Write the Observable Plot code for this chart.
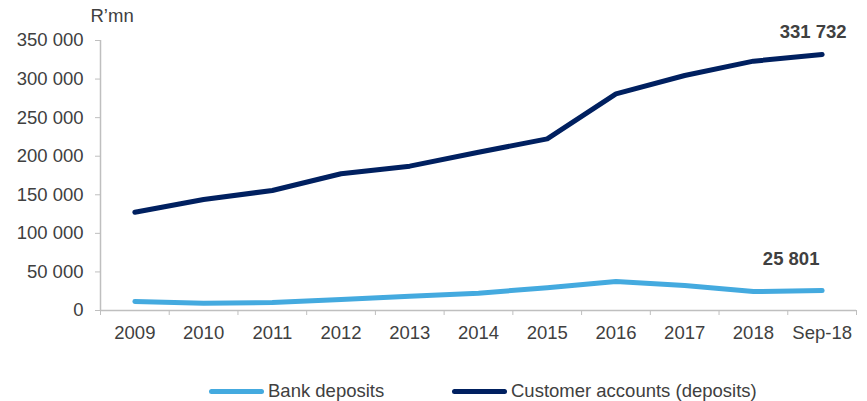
<!DOCTYPE html>
<html>
<head>
<meta charset="utf-8">
<script src="https://cdn.jsdelivr.net/npm/d3@7"></script>
<script src="https://cdn.jsdelivr.net/npm/@observablehq/plot@0.6"></script>
<style>
  body { margin: 0; background: #fff; font-family: "Liberation Sans", Arial, sans-serif; }
  #wrap { position: relative; width: 867px; height: 401px; }
  #legend { position: absolute; left: 0; top: 380px; width: 867px; height: 22px; font-size: 18.5px; color: #404040; }
  .item { position: absolute; top: 0; display: flex; align-items: center; height: 22px; white-space: nowrap; }
  .sw { display: inline-block; width: 55px; height: 5px; border-radius: 3px; margin-right: 4px; }
</style>
</head>
<body>
<div id="wrap">
  <div id="chart"></div>
  <div id="legend">
    <div class="item" style="left:209px"><span class="sw" style="background:#44aadf"></span>Bank deposits</div>
    <div class="item" style="left:452px"><span class="sw" style="background:#002060"></span>Customer accounts (deposits)</div>
  </div>
</div>
<script>
const categories = ["2009","2010","2011","2012","2013","2014","2015","2016","2017","2018","Sep-18"];
const bankDeposits = [11700, 9500, 10400, 14300, 18600, 22500, 29400, 37600, 32400, 24500, 25801];
const customerAccounts = [127400, 143900, 155600, 177200, 187100, 205200, 222500, 280900, 304600, 323200, 331732];
const yTicks = [0, 50000, 100000, 150000, 200000, 250000, 300000, 350000];

const seriesNames = ["Bank deposits", "Customer accounts (deposits)"];
const colors = ["#44aadf", "#002060"];
const rows = [];
categories.forEach((c, i) => {
  rows.push({ i, cat: c, series: seriesNames[0], value: bankDeposits[i] });
  rows.push({ i, cat: c, series: seriesNames[1], value: customerAccounts[i] });
});
const fmt = v => d3.format(",")(v).replace(/,/g, " ");
const last = categories.length - 1;
const custLabel = [{ i: last, value: customerAccounts[last], text: fmt(customerAccounts[last]) }];
const bankLabel = [{ i: last, value: bankDeposits[last], text: fmt(bankDeposits[last]) }];
const boundaries = d3.range(-0.5, categories.length, 1);
const FS = 18.5;

const chart = Plot.plot({
  width: 867,
  height: 360,
  marginTop: 40,
  marginBottom: 50,
  marginLeft: 100,
  marginRight: 11,
  style: { fontFamily: "'Liberation Sans', Arial, sans-serif", fontSize: FS + "px", color: "#404040" },
  x: { type: "linear", domain: [-0.5, categories.length - 0.5] },
  y: { domain: [0, 350000] },
  color: { domain: seriesNames, range: colors },
  marks: [
    Plot.axisY({ ticks: yTicks, tickFormat: fmt, tickSize: 5, tickPadding: 12, stroke: "#bfbfbf", color: "#404040", label: null, fontSize: FS }),
    Plot.ruleX([-0.5], { stroke: "#bfbfbf", strokeWidth: 1.5 }),
    Plot.axisX({ ticks: boundaries, tickFormat: () => "", tickSize: 5, stroke: "#bfbfbf", label: null }),
    Plot.axisX({ ticks: d3.range(categories.length), tickFormat: i => categories[i], tickSize: 0, tickPadding: 15, color: "#404040", label: null, fontSize: FS }),
    Plot.ruleY([0], { stroke: "#bfbfbf", strokeWidth: 1.5 }),
    Plot.line(rows, { x: "i", y: "value", z: "series", stroke: "series", strokeWidth: 5, strokeLinecap: "round", strokeLinejoin: "round" }),
    Plot.text(custLabel, { x: "i", y: "value", text: "text", dx: -9, dy: -23, fontWeight: "bold", fontSize: FS, fill: "#404040" }),
    Plot.text(bankLabel, { x: "i", y: "value", text: "text", dx: -31, dy: -32, fontWeight: "bold", fontSize: FS, fill: "#404040" }),
    Plot.text(["R’mn"], { frameAnchor: "top-left", dx: -10, dy: -24, textAnchor: "start", lineAnchor: "middle", fontSize: FS, fill: "#404040" })
  ]
});
document.getElementById("chart").appendChild(chart);
</script>
</body>
</html>
